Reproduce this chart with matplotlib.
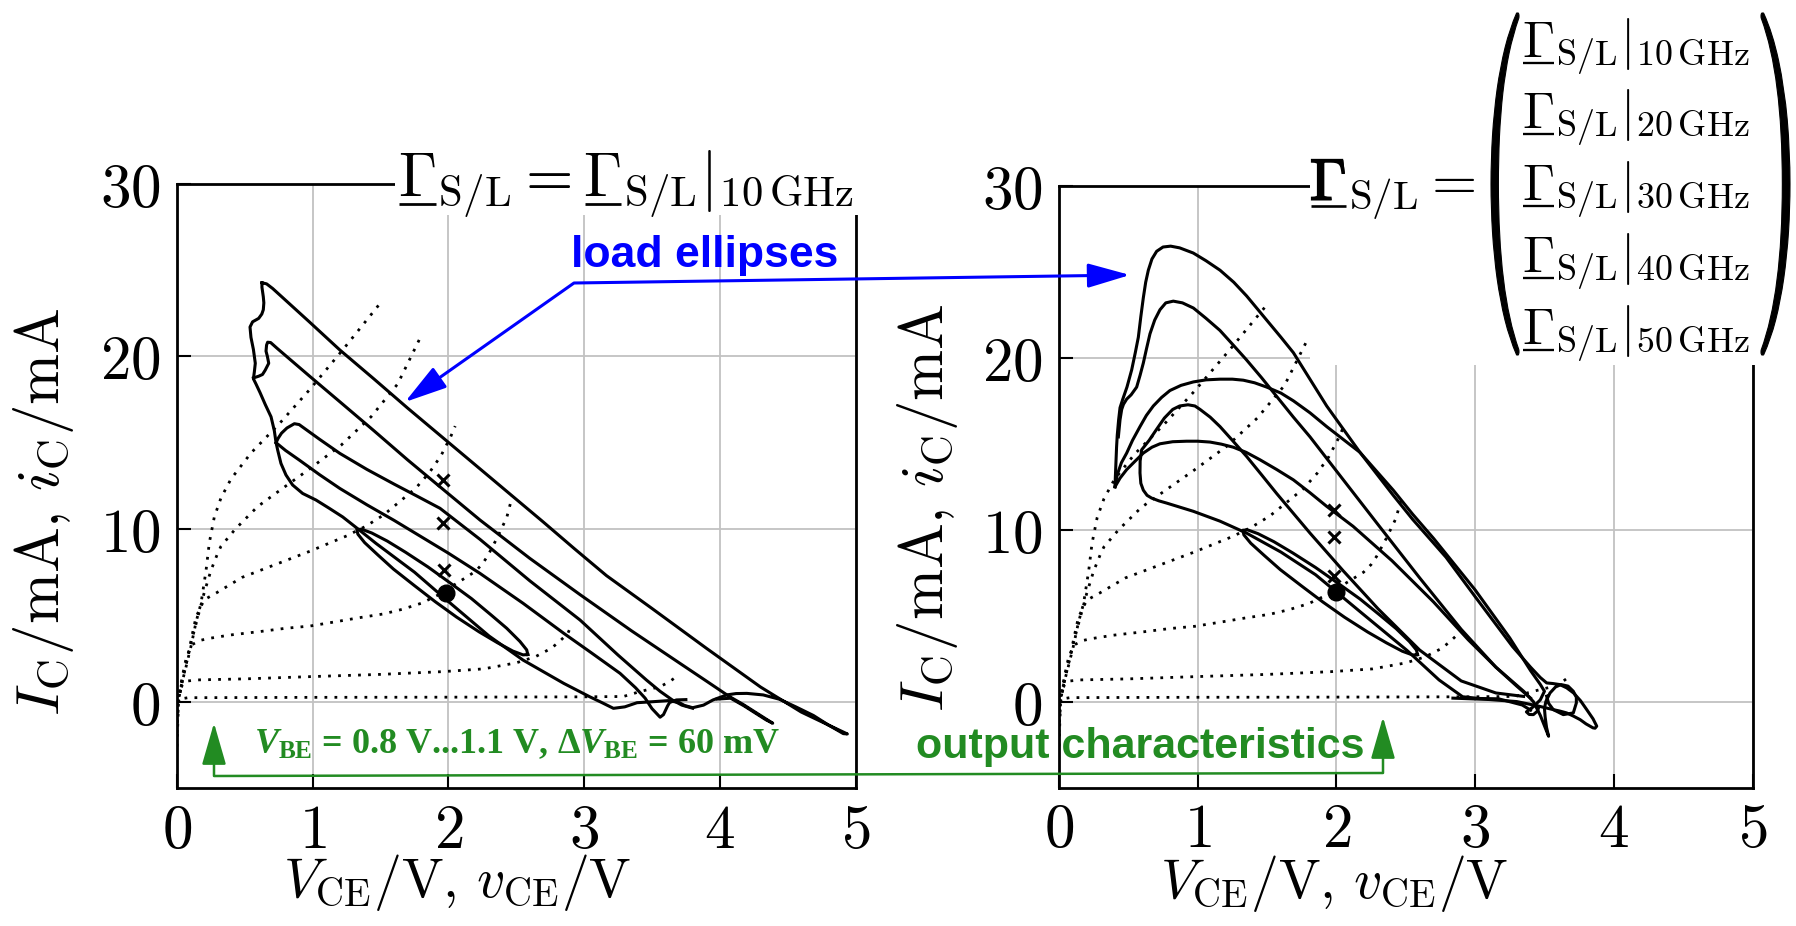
import matplotlib
matplotlib.use('Agg')
import matplotlib.pyplot as plt
from matplotlib.textpath import TextPath
from matplotlib.font_manager import FontProperties
from matplotlib.patches import PathPatch, Rectangle, FancyArrowPatch
from matplotlib.lines import Line2D
from matplotlib.path import Path
from matplotlib.transforms import Affine2D

plt.rcParams['mathtext.fontset'] = 'cm'
# fonts for the green serif annotation (math_fontfamily='custom')
plt.rcParams['mathtext.rm'] = 'Liberation Serif:bold'
plt.rcParams['mathtext.it'] = 'Liberation Serif:italic:bold'
plt.rcParams['mathtext.bf'] = 'Liberation Serif:bold'

# ---------------- data (v_CE / V, i_C / mA) ----------------
xticks = [0, 1, 2, 3, 4, 5]
yticks = [0, 10, 20, 30]

# output characteristics V_BE = 1.10, 1.04, 0.98, 0.92, 0.86, 0.80 V
oc_110 = [(0.0, -2.6), (0.006, -1.2), (0.012, 0.1), (0.03, 0.9), (0.066, 2.0), (0.103, 3.2),
          (0.14, 4.6), (0.177, 5.7), (0.214, 7.6), (0.238, 9.2), (0.275, 10.7), (0.324, 11.8),
          (0.398, 12.9), (0.545, 14.4), (0.754, 16.1), (0.975, 18.05), (1.23, 20.46), (1.5, 23.1)]
oc_104 = [(0.0, -1.8), (0.008, -0.5), (0.015, 0.2), (0.04, 1.3), (0.08, 2.6), (0.12, 3.9),
          (0.16, 5.1), (0.2, 6.3), (0.25, 7.6), (0.3, 8.6), (0.324, 9.0), (0.43, 10.0),
          (0.594, 11.3), (0.779, 12.36), (0.963, 13.4), (1.21, 14.86), (1.43, 16.5),
          (1.626, 18.4), (1.80, 21.2)]
oc_098 = [(0.0, -1.2), (0.01, 0.0), (0.04, 1.2), (0.08, 2.6), (0.11, 3.8), (0.14, 4.9),
          (0.2, 5.9), (0.29, 6.3), (0.48, 7.2), (0.975, 8.7), (1.25, 9.6), (1.393, 10.17),
          (1.52, 10.8), (1.643, 11.6), (1.76, 12.37), (1.86, 13.27), (1.945, 14.24),
          (2.017, 15.35), (2.05, 15.96)]
oc_092 = [(0.0, -0.6), (0.01, 0.2), (0.04, 1.5), (0.07, 2.6), (0.11, 3.3), (0.17, 3.55),
          (0.24, 3.67), (0.39, 3.86), (0.61, 4.06), (0.80, 4.25), (0.98, 4.38), (1.17, 4.63),
          (1.34, 4.86), (1.52, 5.08), (1.66, 5.35), (1.80, 5.7), (1.93, 6.2), (2.05, 6.8),
          (2.196, 7.53), (2.25, 7.97), (2.29, 8.45), (2.36, 9.5), (2.43, 10.67), (2.47, 11.87)]
oc_086 = [(0.0, -0.3), (0.01, 0.3), (0.04, 1.0), (0.08, 1.2), (0.15, 1.26), (0.5, 1.32),
          (0.98, 1.45), (1.5, 1.58), (1.96, 1.74), (2.26, 1.9), (2.5, 2.25), (2.64, 2.6),
          (2.76, 3.1), (2.82, 3.5), (2.88, 3.95), (2.91, 4.5)]
oc_080 = [(0.0, -0.1), (0.02, 0.15), (0.08, 0.23), (1.0, 0.25), (2.0, 0.26), (3.0, 0.28),
          (3.29, 0.3), (3.41, 0.58), (3.56, 0.87), (3.63, 1.16), (3.68, 1.45)]
out_chars = [oc_110, oc_104, oc_098, oc_092, oc_086, oc_080]

# load ellipse at 10 GHz, smallest drive (same in both panels)
ell_small = [(2.585, 2.73), (2.577, 3.0), (2.527, 3.49), (2.43, 4.25), (2.315, 5.02), (2.17, 5.97),
             (2.007, 6.91), (1.85, 7.8), (1.685, 8.65), (1.55, 9.3), (1.435, 9.77), (1.36, 9.99),
             (1.325, 9.97), (1.333, 9.70), (1.383, 9.21), (1.48, 8.5), (1.595, 7.68), (1.75, 6.72),
             (1.903, 5.79), (2.06, 4.9), (2.225, 4.05), (2.36, 3.42), (2.475, 2.93), (2.55, 2.71),
             (2.585, 2.73)]

# left panel: load ellipses for rising drive, Gamma_S/L fixed at 10 GHz
left_l1 = [(0.626, 24.26), (0.66, 24.2), (0.705, 23.93), (0.975, 22.0), (1.2, 20.37), (1.45, 18.7),
           (1.7, 17.0), (1.95, 15.35), (2.2, 13.7), (2.45, 12.05), (2.7, 10.4), (2.93, 8.85),
           (3.165, 7.3), (3.5, 5.4), (3.9, 3.1), (4.3, 0.85), (4.6, -0.6), (4.8, -1.35),
           (4.94, -1.87), (4.91, -1.85), (4.8, -1.35), (4.69, -0.8), (4.56, -0.3), (4.44, 0.14),
           (4.32, 0.39), (4.20, 0.48), (4.12, 0.47), (4.05, 0.39), (3.95, 0.1), (3.88, -0.2),
           (3.80, -0.35), (3.74, -0.22), (3.70, -0.05), (3.62, 0.06), (3.51, 0.0), (3.39, -0.06),
           (3.30, -0.3), (3.216, -0.386), (3.13, -0.05), (3.04, 0.29), (2.85, 1.06), (2.55, 2.41),
           (2.3, 3.8), (2.0, 5.8), (1.75, 7.5), (1.466, 9.17), (1.344, 9.94), (1.221, 10.7),
           (1.122, 11.2), (1.024, 11.68), (0.926, 12.06), (0.852, 12.55), (0.803, 13.13),
           (0.766, 13.8), (0.742, 14.57), (0.73, 15.0), (0.717, 15.7), (0.693, 16.5),
           (0.651, 17.2), (0.612, 17.9), (0.582, 18.4), (0.563, 18.7), (0.57, 19.1), (0.577, 19.6),
           (0.57, 20.0), (0.563, 20.4), (0.545, 21.1), (0.538, 21.7), (0.557, 22.0), (0.602, 22.2),
           (0.625, 22.45), (0.636, 22.7), (0.64, 23.1), (0.636, 23.45), (0.626, 24.0),
           (0.626, 24.26)]
left_l2 = [(0.563, 18.75), (0.602, 18.85), (0.63, 18.95), (0.65, 19.2), (0.676, 19.6),
           (0.666, 20.0), (0.656, 20.3), (0.66, 20.65), (0.668, 20.82), (0.69, 20.8), (0.74, 20.45),
           (0.97, 18.9), (1.2, 17.37), (1.45, 15.7), (1.7, 14.0), (1.96, 12.3), (2.233, 10.52),
           (2.6, 8.3), (2.97, 6.2), (3.35, 4.1), (3.71, 2.2), (3.9, 1.2), (4.07, 0.3), (4.17, -0.15),
           (4.25, -0.55), (4.32, -0.9), (4.39, -1.25), (4.34, -1.05), (4.26, -0.65), (4.18, -0.25),
           (4.08, 0.2), (3.98, 0.15)]
left_l3 = [(0.73, 15.0), (0.745, 15.25), (0.77, 15.55), (0.81, 15.85), (0.865, 16.1), (0.9, 16.05),
           (1.05, 15.2), (1.2, 14.38), (1.4, 13.45), (1.6, 12.6), (1.77, 11.9), (1.938, 11.2),
           (2.233, 9.4), (2.6, 7.0), (2.97, 4.73), (3.25, 2.7), (3.46, 1.25), (3.56, 0.6),
           (3.65, 0.1), (3.72, -0.2), (3.80, -0.38)]
left_l4 = [(0.73, 15.0), (0.8, 14.55), (0.9, 14.0), (1.05, 13.15), (1.2, 12.35), (1.4, 11.4),
           (1.6, 10.5), (1.8, 9.55), (2.0, 8.6), (2.233, 7.43), (2.55, 5.7), (2.85, 3.96),
           (3.05, 2.85), (3.265, 1.64), (3.38, 0.8), (3.45, 0.2), (3.5, -0.4), (3.56, -0.9),
           (3.585, -0.75), (3.60, -0.5), (3.615, -0.25), (3.63, -0.05), (3.68, 0.1), (3.75, 0.12)]
left_loops = [left_l1, left_l2, left_l3, left_l4, ell_small]
left_dc_x = [(1.96, 12.84), (1.96, 10.37), (1.97, 7.63)]
left_dc_dot = (1.98, 6.31)

# right panel: harmonic terminations 10 ... 50 GHz
right_r1 = [(0.404, 12.5), (0.406, 13.0), (0.41, 13.8), (0.415, 14.8), (0.42, 15.5), (0.43, 16.4),
            (0.44, 17.1), (0.46, 17.6), (0.49, 18.3), (0.524, 19.3), (0.55, 20.3), (0.572, 21.2),
            (0.59, 22.4), (0.608, 23.5), (0.625, 24.4), (0.644, 25.1), (0.67, 25.75), (0.704, 26.2),
            (0.75, 26.45), (0.805, 26.5), (0.87, 26.4), (0.968, 26.1), (1.06, 25.65), (1.161, 25.1),
            (1.26, 24.4), (1.353, 23.6), (1.497, 22.2), (1.6, 21.2), (1.69, 20.3), (1.81, 18.75),
            (1.93, 17.2), (2.05, 15.85), (2.17, 14.5), (2.29, 13.25), (2.41, 12.0), (2.55, 10.6),
            (2.79, 8.4), (3.01, 6.0), (3.27, 3.2), (3.4, 2.0), (3.47, 1.4), (3.516, 1.085),
            (3.56, 1.05), (3.61, 0.99), (3.66, 0.8), (3.71, 0.5), (3.76, 0.05), (3.805, -0.47),
            (3.85, -1.0), (3.877, -1.43), (3.865, -1.55), (3.85, -1.53), (3.80, -1.3),
            (3.757, -1.05), (3.71, -0.85), (3.66, -0.66), (3.61, -0.55), (3.564, -0.47),
            (3.45, -0.25), (3.3, 0.0), (3.1, 0.12), (2.84, 0.2)]
right_r2 = [(0.428, 15.4), (0.44, 16.4), (0.452, 17.0), (0.465, 17.3), (0.488, 17.6), (0.52, 17.85),
            (0.56, 18.3), (0.585, 19.0), (0.608, 19.7), (0.63, 20.5), (0.656, 21.4), (0.69, 22.2),
            (0.728, 22.8), (0.77, 23.2), (0.824, 23.3), (0.89, 23.2), (0.969, 22.9), (1.06, 22.3),
            (1.16, 21.6), (1.25, 20.8), (1.35, 19.9), (1.46, 18.85), (1.57, 17.75), (1.69, 16.55),
            (1.81, 15.4), (1.93, 14.15), (2.05, 12.9), (2.3, 10.3), (2.6, 7.2), (2.9, 4.2),
            (3.15, 2.0), (3.35, 0.6), (3.42, 0.0), (3.47, -0.8), (3.53, -2.02), (3.515, -1.5),
            (3.505, -0.9), (3.50, -0.4), (3.51, 0.0), (3.54, 0.5), (3.58, 0.85), (3.62, 0.99),
            (3.67, 0.9), (3.708, 0.6), (3.73, 0.25), (3.73, -0.08), (3.708, -0.66), (3.636, -0.76),
            (3.564, -0.47), (3.53, -0.1), (3.516, 0.31)]
right_r3 = [(0.404, 12.5), (0.42, 13.2), (0.45, 13.9), (0.488, 14.46), (0.53, 15.2), (0.584, 16.0),
            (0.63, 16.65), (0.68, 17.2), (0.74, 17.7), (0.80, 18.1), (0.88, 18.4), (0.969, 18.6),
            (1.06, 18.72), (1.161, 18.76), (1.25, 18.76), (1.329, 18.7), (1.41, 18.55),
            (1.497, 18.3), (1.6, 17.95), (1.69, 17.5), (1.81, 16.8), (1.93, 16.0), (2.05, 15.25),
            (2.17, 14.5), (2.29, 13.4), (2.41, 12.3), (2.55, 10.9), (2.7, 9.5), (3.0, 6.5),
            (3.25, 3.7), (3.4, 1.8), (3.47, 1.0), (3.5, 0.6), (3.47, 0.1), (3.42, -0.3),
            (3.37, -0.6), (3.39, -0.75), (3.42, -0.76), (3.45, -0.55), (3.46, -0.3)]
right_r4 = [(3.40, -0.5), (3.34, -0.2), (3.17, 0.16), (3.03, 0.18), (2.91, 0.28), (2.74, 1.26),
            (2.51, 2.97), (2.18, 5.17), (1.85, 7.38), (1.6, 8.7), (1.353, 9.8), (1.16, 10.5),
            (0.969, 11.07), (0.776, 11.55), (0.72, 11.68), (0.668, 11.84), (0.635, 12.0),
            (0.608, 12.3), (0.59, 12.7), (0.584, 13.3), (0.585, 14.0), (0.596, 14.65), (0.65, 15.2),
            (0.70, 15.8), (0.76, 16.5), (0.82, 17.0), (0.87, 17.2), (0.93, 17.27), (0.98, 17.2),
            (1.017, 17.0), (1.09, 16.55), (1.161, 16.0), (1.25, 15.2), (1.353, 14.26), (1.46, 13.2),
            (1.57, 12.1), (1.69, 10.95), (1.81, 9.8), (2.05, 7.6), (2.3, 5.4), (2.6, 3.0),
            (2.9, 1.2), (3.15, 0.5), (3.35, 0.3)]
right_r5 = [(0.404, 12.5), (0.44, 13.0), (0.488, 13.5), (0.55, 14.0), (0.608, 14.46), (0.67, 14.8),
            (0.728, 15.0), (0.82, 15.12), (0.92, 15.15), (1.0, 15.15), (1.089, 15.1), (1.17, 14.98),
            (1.257, 14.8), (1.35, 14.5), (1.449, 14.07), (1.57, 13.5), (1.69, 12.9), (1.81, 12.15),
            (1.93, 11.36), (2.12, 10.2), (2.4, 8.2), (2.7, 5.8), (2.95, 3.6), (3.15, 2.0),
            (3.3, 0.9), (3.4, 0.2)]
right_loops = [right_r1, right_r2, right_r3, right_r4, right_r5, ell_small]
right_dc_x = [(1.98, 11.12), (1.98, 9.55), (1.98, 7.33)]
right_dc_dot = (2.0, 6.36)

freqs = ['10', '20', '30', '40', '50']

# ---------------- figure ----------------
W, H = 1796, 926
fig = plt.figure(figsize=(W / 100, H / 100), dpi=100)
T = Affine2D().scale(1 / W, -1 / H).translate(0, 1) + fig.transFigure   # pixel coords, origin top-left


def box(x0, y0, x1, y1):
    return [x0 / W, 1 - y1 / H, (x1 - x0) / W, (y1 - y0) / H]


axL = fig.add_axes(box(177, 183.7, 855.5, 788))
axR = fig.add_axes(box(1059, 186, 1752.5, 787.5))

for ax, loops, dcx, dot in ((axL, left_loops, left_dc_x, left_dc_dot),
                            (axR, right_loops, right_dc_x, right_dc_dot)):
    for c in out_chars:
        ax.plot([p[0] for p in c], [p[1] for p in c], color='k', lw=2.0,
                linestyle=(0, (1, 2.6)), zorder=2)
    for lp in loops:
        ax.plot([p[0] for p in lp], [p[1] for p in lp], color='k', lw=2.2,
                solid_joinstyle='round', zorder=3)
    ax.plot([p[0] for p in dcx], [p[1] for p in dcx], 'x', color='k', ms=9, mew=2.2, zorder=4)
    ax.plot([dot[0]], [dot[1]], 'o', color='k', ms=12, zorder=4)

    ax.set_xlim(0, 5)
    ax.set_ylim(-5, 30)
    ax.set_xticks(xticks)
    ax.set_yticks(yticks)
    ax.set_xticklabels([f'${t}$' for t in xticks])
    ax.set_yticklabels([f'${t}$' for t in yticks])
    ax.tick_params(direction='in', length=10, width=1.5, labelsize=44, top=False, right=False)
    ax.tick_params(axis='x', pad=10)
    ax.tick_params(axis='y', pad=12)
    ax.grid(True, color='#c2c2c2', lw=1.3)
    ax.set_axisbelow(True)
    for s in ax.spines.values():
        s.set_linewidth(2.0)
    ax.set_xlabel(r'$V_\mathrm{CE}/\mathrm{V},\, v_\mathrm{CE}/\mathrm{V}$', fontsize=40)
    ax.set_ylabel(r'$I_\mathrm{C}/\mathrm{mA},\, i_\mathrm{C}/\mathrm{mA}$', fontsize=44)
    ax.xaxis.label.set_va('center')
    ax.yaxis.label.set_va('center')

axL.xaxis.set_label_coords(0.413, -0.156)
axL.yaxis.set_label_coords(-0.197, 0.458)
axR.xaxis.set_label_coords(0.397, -0.160)
axR.yaxis.set_label_coords(-0.189, 0.466)

# white boxes behind the formulas (they cut the frame like in the original)
fig.add_artist(Rectangle((395, 0), 475, 215, transform=T, fc='white', ec='none', zorder=5))
fig.add_artist(Rectangle((1310, 0), 486, 365, transform=T, fc='white', ec='none', zorder=5))

MTH = FontProperties(math_fontfamily='cm')
PX = 100 / 72


def gamma_text(x, y, s, size, prefixes, bold=False):
    fig.text(x / W, 1 - y / H, s, fontsize=size, ha='left', va='baseline', zorder=7)
    g = TextPath((0, 0), r'$\Gamma$', size=size, prop=MTH)
    if bold:
        tr = Affine2D().scale(PX, -PX).translate(x, y)
        fig.add_artist(PathPatch(tr.transform_path(g), transform=T, fc='k', ec='k', lw=1.3, zorder=7))
    gw = g.get_extents().width * PX
    for p in prefixes:
        xr = x + TextPath((0, 0), p, size=size, prop=MTH).get_extents().x1 * PX
        yy = y + 0.11 * size * PX
        fig.add_artist(Line2D([xr - gw - 1, xr + 2], [yy, yy], transform=T, color='k',
                              lw=0.045 * size, solid_capstyle='butt', zorder=7))


gamma_text(398, 197, r'$\Gamma_\mathrm{S/L} = \Gamma_\mathrm{S/L}|_{10\,\mathrm{GHz}}$', 44,
           [r'$\Gamma$', r'$\Gamma_\mathrm{S/L} = \Gamma$'])
gamma_text(1310, 200, r'$\Gamma_\mathrm{S/L} =$', 42, [r'$\Gamma$'], bold=True)
for i, f in enumerate(freqs):
    gamma_text(1522, 57 + 71.75 * i, r'$\Gamma_\mathrm{S/L}|_{%s\,\mathrm{GHz}}$' % f, 37, [r'$\Gamma$'])

# big matrix parentheses
for ch, (x0, x1) in ((r'$($', (1491, 1519)), (r'$)$', (1761, 1790))):
    tp = TextPath((0, 0), ch, size=100, prop=MTH)
    e = tp.get_extents()
    y0, y1 = 13, 355
    tr = Affine2D().translate(-e.x0, -e.y0).scale((x1 - x0) / e.width, -(y1 - y0) / e.height).translate(x0, y1)
    fig.add_artist(PathPatch(tr.transform_path(tp), transform=T, fc='k', ec='k', lw=0.8, zorder=7))

# annotations
blue = '#0000ff'
green = '#228b22'

fig.text(571 / W, 1 - 267 / H, 'load ellipses', color=blue, fontsize=32, fontweight='bold',
         family='Liberation Sans', ha='left', va='baseline', zorder=7)
fig.add_artist(FancyArrowPatch(path=Path([(1130, 275), (574, 283), (405, 402)]),
                               arrowstyle='<|-|>,head_length=26,head_width=7.5', mutation_scale=1,
                               transform=T, color=blue, lw=2.2, zorder=8))

fig.text(916 / W, 1 - 758 / H, 'output characteristics', color=green, fontsize=31,
         fontweight='bold', family='Liberation Sans', ha='left', va='baseline', zorder=7)
fig.text(254 / W, 1 - 753 / H, r'$V_\mathrm{BE}$ = 0.8 V...1.1 V, $\Delta V_\mathrm{BE}$ = 60 mV',
         color=green, fontsize=26, fontweight='bold', family='Liberation Serif',
         math_fontfamily='custom', ha='left', va='baseline', zorder=7)
fig.add_artist(FancyArrowPatch(path=Path([(214, 723), (214, 776), (1383, 773), (1383, 717)]),
                               arrowstyle='<|-|>,head_length=26,head_width=7.5', mutation_scale=1,
                               transform=T, color=green, lw=1.8, zorder=8))

fig.savefig('out.png', dpi=100)
